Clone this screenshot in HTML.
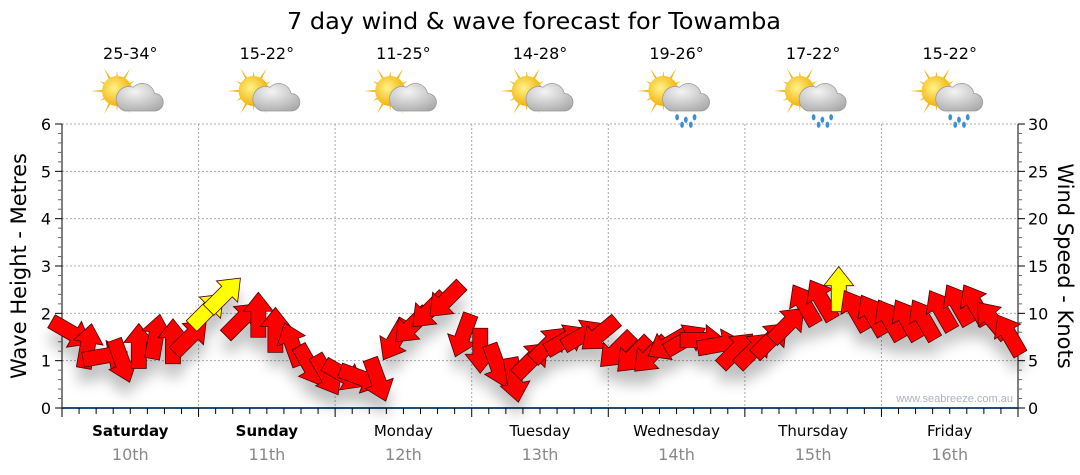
<!DOCTYPE html>
<html><head><meta charset="utf-8"><style>
html,body{margin:0;padding:0;background:#fff;}
svg{display:block;font-family:"DejaVu Sans","Liberation Sans",sans-serif;}
</style></head><body>
<svg id="chart" width="1080" height="475" viewBox="0 0 1080 475" xmlns="http://www.w3.org/2000/svg">
<defs>
<filter id="sh" x="-50%" y="-50%" width="200%" height="200%"><feGaussianBlur stdDeviation="7"/></filter>
<radialGradient id="cloudg" cx="0.4" cy="0.3" r="0.8"><stop offset="0" stop-color="#f4f4f4"/><stop offset="1" stop-color="#a9a9a9"/></radialGradient>
<radialGradient id="sung" cx="0.4" cy="0.4" r="0.6"><stop offset="0" stop-color="#fff38a"/><stop offset="1" stop-color="#f3b20b"/></radialGradient>
</defs>
<text x="534" y="29" text-anchor="middle" font-size="23" fill="#000" textLength="494" lengthAdjust="spacingAndGlyphs">7 day wind &amp; wave forecast for Towamba</text>
<g id="grid"></g>
<g id="axes"></g>
<g id="shadow" filter="url(#sh)" opacity="0.25"></g>
<g id="arrows"></g>
<g id="wx"></g>
<text transform="translate(26,266) rotate(-90)" text-anchor="middle" font-size="21" fill="#000">Wave Height - Metres</text>
<text transform="translate(1058,266) rotate(90)" text-anchor="middle" font-size="21" fill="#000">Wind Speed - Knots</text>
<text x="1013" y="402" text-anchor="end" font-size="11" fill="#a8b4c4" font-family="Liberation Sans, sans-serif">www.seabreeze.com.au</text>
</svg>
<script>
const days = ["Saturday","Sunday","Monday","Tuesday","Wednesday","Thursday","Friday"];
const dates = ["10th","11th","12th","13th","14th","15th","16th"];
const temps = ["25-34°","15-22°","11-25°","14-28°","19-26°","17-22°","15-22°"];
const rain = [false,false,false,false,true,true,true];
const leftTicks = [0,1,2,3,4,5,6];
const rightTicks = [0,5,10,15,20,25,30];
// wind speed (knots), 3-hourly
const windKnots = [
 8,6.5,5.5,5,6.5,7.5,7,7.5,
 10.3,12,9.3,9.8,8.2,6.7,4.5,3.5,
 3.5,3.2,3,7.2,8.7,10.3,11.4,7.7,
 6.1,4.5,3,5.1,6.7,7.2,7.7,7.8,
 6.1,5.6,5.6,6.7,7.2,7.2,6.7,6.1,
 6.1,7.2,8.8,10.9,11.4,12.5,10.3,9.8,
 9.3,9.3,9.3,10.3,10.9,10.9,9.3,7.7];
// direction arrow points to (deg, 0=up, clockwise)
const windDir = [
 120,10,80,160,0,10,0,45,
 45,45,45,0,0,340,150,150,
 120,110,160,210,225,225,225,200,
 180,160,170,45,45,60,60,230,
 225,225,225,240,60,90,80,45,
 45,45,45,330,330,0,330,330,
 330,330,330,330,330,330,320,330];
const gust = [
 0,0,0,0,0,0,0,0,
 1,1,0,0,0,0,0,0,
 0,0,0,0,0,0,0,0,
 0,0,0,0,0,0,0,0,
 0,0,0,0,0,0,0,0,
 0,0,0,0,0,1,0,0,
 0,0,0,0,0,0,0,0];

const NS="http://www.w3.org/2000/svg";
const X0=62,X1=1018,Y0=408,Y1=124,DW=(X1-X0)/7;
const ym=v=>Y0-(Y0-Y1)*v/6;
const yk=v=>Y0-(Y0-Y1)*v/30;
const xi=i=>X0+(i+0.5)*DW/8;
function mk(tag,attrs,parent){const e=document.createElementNS(NS,tag);for(const k in attrs)e.setAttribute(k,attrs[k]);parent.appendChild(e);return e;}
const grid=document.getElementById('grid'),axes=document.getElementById('axes');
leftTicks.forEach(v=>{ if(v>0){const l=mk('line',{x1:X0,x2:X1,y1:ym(v),y2:ym(v),stroke:'#aaa','stroke-dasharray':'2,2'},grid);

}});
for(let d=1;d<7;d++){const l=mk('line',{x1:X0+d*DW,x2:X0+d*DW,y1:Y1,y2:Y0,stroke:'#aaa','stroke-dasharray':'2,2'},grid);

}
mk('line',{x1:X0,x2:X0,y1:Y1,y2:Y0+6,stroke:'#000'},axes);
for(let k=0;k<=30;k++){const y=ym(k*0.2);mk('line',{x1:X0-(k%5?4:7),x2:X0,y1:y,y2:y,stroke:k%5?'#666':'#000'},axes);}
leftTicks.forEach(v=>{const t=mk('text',{x:X0-11,y:ym(v)+6,'text-anchor':'end','font-size':16,fill:'#000'},axes);t.textContent=v;

});
mk('line',{x1:X1,x2:X1,y1:Y1,y2:Y0,stroke:'#000'},axes);
for(let k=0;k<=30;k++){const y=yk(k);mk('line',{x1:X1,x2:X1+(k%5?4:7),y1:y,y2:y,stroke:k%5?'#666':'#000'},axes);}
rightTicks.forEach(v=>{const t=mk('text',{x:X1+10,y:yk(v)+6,'font-size':16,fill:'#000'},axes);t.textContent=v;

});
mk('line',{x1:X0,x2:X1,y1:Y0,y2:Y0,stroke:'#1f4e79','stroke-width':2},axes);
for(let j=0;j<=56;j++){const x=X0+j*DW/8;if(x>X1+0.5)break;mk('line',{x1:x,x2:x,y1:Y0,y2:Y0+(j%8?6:9),stroke:'#000'},axes);}
days.forEach((d,i)=>{const cx=X0+(i+0.5)*DW;
const t=mk('text',{x:cx,y:436,'text-anchor':'middle','font-size':15,fill:'#000','font-weight':i<2?'bold':'normal'},axes);t.textContent=d;


const t2=mk('text',{x:cx,y:460,'text-anchor':'middle','font-size':16,fill:'#888'},axes);t2.textContent=dates[i];

});
const wx=document.getElementById('wx');
temps.forEach((tp,i)=>{const cx=X0+(i+0.5)*DW;
const t=mk('text',{x:cx,y:59,'text-anchor':'middle','font-size':16,fill:'#000'},wx);t.textContent=tp;


const g=mk('g',{transform:`translate(${cx-2},${96}) scale(1.25)`},wx);


for(let r=0;r<12;r++){const a=r*30*Math.PI/180;const L=r%2?16:21;
mk('polygon',{points:`${-9+Math.cos(a+0.12)*9},${-4+Math.sin(a+0.12)*9} ${-9+Math.cos(a)*L},${-4+Math.sin(a)*L} ${-9+Math.cos(a-0.12)*9},${-4+Math.sin(a-0.12)*9}`,fill:'#f2b51a'},g);}
mk('circle',{cx:-9,cy:-4,r:12,fill:'url(#sung)'},g);
mk('path',{d:'M-3,12 h24 a7,7 0 0 0 0,-14 a10,10 0 0 0 -17,-5 a8,8 0 0 0 -7,19 z',fill:'url(#cloudg)',stroke:'#999','stroke-width':0.6},g);
if(rain[i]){[[2,17],[9,19],[16,17],[6,23],[13,23]].forEach(p=>mk('ellipse',{cx:p[0],cy:p[1],rx:1.5,ry:2.5,fill:'#3a8fd6'},g));}
});
const ag=document.getElementById('arrows'),sg=document.getElementById('shadow');
const shape='M0,-23 L15,-4 L7.5,-4 L7.5,22 L-7.5,22 L-7.5,-4 L-15,-4 Z';
windKnots.forEach((v,i)=>{
 const x=xi(i),y=yk(v),a=windDir[i];
 mk('path',{d:shape,transform:`translate(${x},${y+14}) rotate(${a})`,fill:'#000'},sg);
 const p=mk('path',{d:shape,transform:`translate(${x},${y}) rotate(${a})`,fill:gust[i]?'#ffff00':'#ff0000',stroke:'#4a0000','stroke-width':0.8,'stroke-linejoin':'miter'},ag);
 
 
});
</script>
</body></html>
